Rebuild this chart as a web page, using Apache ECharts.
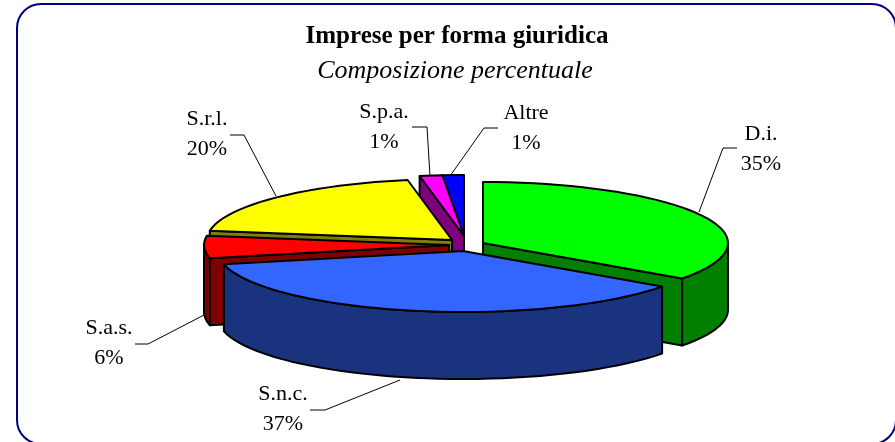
<!DOCTYPE html>
<html>
<head>
<meta charset="utf-8">
<style>
  html, body { margin: 0; padding: 0; background: #fff; }
  #chart { width: 895px; height: 442px; }
</style>
</head>
<body>
<div id="chart"></div>
<script src="https://cdn.jsdelivr.net/npm/echarts@6/dist/echarts.min.js"></script>
<script>
// clockwise from twelve o'clock
const categories = ['D.i.', 'S.n.c.', 'S.a.s.', 'S.r.l.', 'S.p.a.', 'Altre'];
const shares = [34.9, 36.6, 5.9, 19.7, 1.49, 1.41];
const topColors = ['#00ff00', '#3366ff', '#ff0000', '#ffff00', '#ff00ff', '#0000ff'];
const sideColors = ['#007f00', '#19337f', '#7f0000', '#7f7f00', '#7f007f', '#00007f'];

// the pie as seen from above
const CX = 465, CY = 243, RX = 245, RY = 61, DEPTH = 67;
// how far every slice is pulled out of the pie
const explode = [[18, 0], [-2, 8], [-16, 2], [-13, -3], [-1, -7], [-1, -7]];
// paint order, back to front
const layer = [3, 6, 5, 4, 2, 1];
// where the text sits and how its leader line runs
const labelPos = [[761, 134], [283, 394], [109, 328], [207, 119], [384, 112], [526, 113]];
const leaders = [
  [[699, 212], [723, 148], [737, 148]],
  [[400, 380], [325, 410], [310, 410]],
  [[204, 315], [148, 344], [135, 344]],
  [[276, 196], [244, 135], [230, 135]],
  [[430, 176], [427, 127], [412, 127]],
  [[450, 176], [484, 128], [498, 128]]
];

const total = shares.reduce((a, b) => a + b, 0);
const startOf = i => shares.slice(0, i).reduce((a, b) => a + b, 0) / total * 360;

function renderSlice(params, api) {
  const i = params.dataIndex;
  const a0 = startOf(i), a1 = startOf(i + 1);
  const ox = CX + explode[i][0], oy = CY + explode[i][1];
  const rim = deg => {
    const r = deg * Math.PI / 180;
    return [ox + RX * Math.sin(r), oy - RY * Math.cos(r)];
  };
  const down = p => [p[0], p[1] + DEPTH];
  const arc = (from, to) => {
    const pts = [];
    for (let d = from; d < to; d += 3) pts.push(rim(d));
    pts.push(rim(to));
    return pts;
  };
  const apex = [ox, oy];
  const z = layer[i] * 10;
  const edge = { stroke: '#000', lineWidth: 2, lineJoin: 'round' };
  const face = (points, fill, z2) => ({
    type: 'polygon', z2: z2, shape: { points: points },
    style: Object.assign({ fill: fill }, edge)
  });
  const children = [];

  // cut faces that look towards the viewer
  if (Math.sin(a0 * Math.PI / 180) < -0.01) {
    const p = rim(a0);
    children.push(face([apex, p, down(p), down(apex)], sideColors[i], z));
  }
  if (Math.sin(a1 * Math.PI / 180) > 0.01) {
    const p = rim(a1);
    children.push(face([apex, p, down(p), down(apex)], sideColors[i], z));
  }
  // outer wall, front half only
  const w0 = Math.max(a0, 90), w1 = Math.min(a1, 270);
  if (w1 > w0) {
    const top = arc(w0, w1);
    children.push(face(top.concat(top.map(down).reverse()), sideColors[i], z + 1));
  }
  // top
  children.push(face([apex].concat(arc(a0, a1)), topColors[i], z + 2));

  // leader and label
  children.push({
    type: 'polyline', z2: 100, shape: { points: leaders[i] },
    style: { fill: null, stroke: '#000', lineWidth: 1 }
  });
  const textStyle = { fill: '#000', font: '22px "Liberation Serif"', align: 'center', verticalAlign: 'middle' };
  children.push({
    type: 'text', z2: 101, x: labelPos[i][0], y: labelPos[i][1],
    style: Object.assign({ text: categories[i] }, textStyle)
  });
  children.push({
    type: 'text', z2: 101, x: labelPos[i][0], y: labelPos[i][1] + 30,
    style: Object.assign({ text: Math.round(shares[i]) + '%' }, textStyle)
  });
  return { type: 'group', children: children };
}

const myChart = echarts.init(document.getElementById('chart'), null, { renderer: 'canvas' });
myChart.setOption({
  animation: false,
  backgroundColor: '#fff',
  title: [
    {
      text: 'Imprese per forma giuridica', left: 457, top: 24, textAlign: 'center', padding: 0,
      textStyle: { fontFamily: 'Liberation Serif', fontWeight: 'bold', fontSize: 25, color: '#000' }
    },
    {
      text: 'Composizione percentuale', left: 455, top: 58, textAlign: 'center', padding: 0,
      textStyle: { fontFamily: 'Liberation Serif', fontStyle: 'italic', fontWeight: 'normal', fontSize: 26, color: '#000' }
    }
  ],
  graphic: [{
    type: 'rect', z: -1, silent: true,
    shape: { x: 17, y: 4, width: 879, height: 440, r: 24 },
    style: { fill: '#fff', stroke: '#000080', lineWidth: 2 }
  }],
  series: [{
    type: 'custom',
    coordinateSystem: 'none',
    silent: true,
    renderItem: renderSlice,
    data: categories.map((name, i) => ({ name: name, value: shares[i] }))
  }]
});
</script>
</body>
</html>
